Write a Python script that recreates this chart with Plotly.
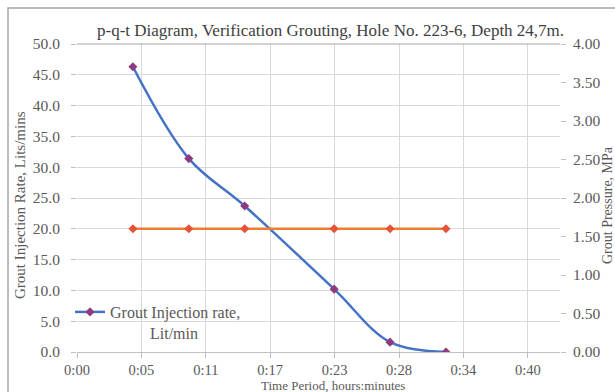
import plotly.graph_objects as go

# Data
time_min = [5, 10, 15, 23, 28, 33]
injection_rate = [46.3, 31.4, 23.7, 10.2, 1.6, 0.0]
pressure = [1.6, 1.6, 1.6, 1.6, 1.6, 1.6]
x_tick_vals = [0, 5.76, 11.52, 17.28, 23.04, 28.8, 34.56, 40.32]
x_tick_text = ["0:00", "0:05", "0:11", "0:17", "0:23", "0:28", "0:34", "0:40"]

FONT = "Liberation Serif"
GRAY = "#595959"

fig = go.Figure()
fig.add_trace(go.Scatter(
    x=time_min, y=injection_rate, mode="lines+markers",
    name="Grout Injection rate,<br>" + "&nbsp;" * 10 + "Lit/min",
    line=dict(color="#4472C4", width=2.5, shape="spline", smoothing=1),
    marker=dict(symbol="diamond", size=7, color="#8E3A80"),
))
fig.add_trace(go.Scatter(
    x=time_min, y=pressure, mode="lines+markers", yaxis="y2",
    name="Grout Pressure, MPa", showlegend=False,
    line=dict(color="#ED7D31", width=2.5),
    marker=dict(symbol="diamond", size=7, color="#E5533A"),
))

L, R, T, B = 77, 55, 44, 40
W, H = 615, 392
pw, ph = W - L - R, H - T - B

def px2paper_x(px):
    return (px - L) / pw

def px2paper_y(py):
    return 1 - (py - T) / ph

TICKFONT = dict(family=FONT, size=15.5, color=GRAY)
XTICKFONT = dict(family=FONT, size=14.5, color=GRAY)

fig.update_layout(
    width=W, height=H,
    margin=dict(l=L, r=R, t=T, b=B),
    paper_bgcolor="white", plot_bgcolor="white",
    font=dict(family=FONT, size=14, color=GRAY),
    xaxis=dict(
        range=[0, 43.2], tickvals=x_tick_vals, ticktext=x_tick_text,
        showgrid=True, gridcolor="#d9d9d9", gridwidth=1,
        showline=True, linecolor="#bfbfbf", ticks="outside", ticklen=5,
        tickcolor="#bfbfbf", zeroline=False, ticklabelstandoff=0,
        tickfont=XTICKFONT,
    ),
    yaxis=dict(
        range=[0, 50], dtick=5, tickformat=".1f",
        showgrid=True, gridcolor="#d9d9d9", gridwidth=1,
        showline=False, ticks="outside", ticklen=5, tickcolor="#bfbfbf",
        zeroline=False, ticklabelstandoff=8, tickfont=TICKFONT,
    ),
    yaxis2=dict(
        range=[0, 4], dtick=0.5, tickformat=".2f", overlaying="y", side="right",
        showgrid=False, showline=False, ticks="outside", ticklen=5,
        tickcolor="#bfbfbf", zeroline=False, ticklabelstandoff=4,
        tickfont=TICKFONT,
    ),
    legend=dict(
        x=px2paper_x(70), y=px2paper_y(295), xanchor="left", yanchor="top",
        valign="top", tracegroupgap=0,
        bgcolor="rgba(0,0,0,0)", font=dict(family=FONT, size=16, color=GRAY),
    ),
    showlegend=True,
    shapes=[
        dict(type="rect", xref="paper", yref="paper",
             x0=px2paper_x(8), x1=px2paper_x(640),
             y0=px2paper_y(420), y1=px2paper_y(8),
             line=dict(color="#a6a6a6", width=1.5), fillcolor="rgba(0,0,0,0)",
             layer="below"),
        dict(type="line", xref="paper", yref="paper",
             x0=0, x1=1, y0=1, y1=1, line=dict(color="#a6a6a6", width=1)),
    ],
    annotations=[
        dict(text="p-q-t Diagram, Verification Grouting, Hole No. 223-6, Depth 24,7m.",
             xref="paper", yref="paper", x=px2paper_x(330), y=px2paper_y(30),
             xanchor="center", yanchor="middle", showarrow=False,
             font=dict(family=FONT, size=17, color="#404040")),
        dict(text="Grout Injection Rate, Lits/mins", textangle=-90,
             xref="paper", yref="paper", x=px2paper_x(20), y=px2paper_y(205),
             xanchor="center", yanchor="middle", showarrow=False,
             font=dict(family=FONT, size=15, color=GRAY)),
        dict(text="Grout Pressure, MPa", textangle=-90,
             xref="paper", yref="paper", x=px2paper_x(607), y=px2paper_y(205),
             xanchor="center", yanchor="middle", showarrow=False,
             font=dict(family=FONT, size=14, color=GRAY)),
        dict(text="Time Period, hours:minutes",
             xref="paper", yref="paper", x=px2paper_x(333), y=px2paper_y(385),
             xanchor="center", yanchor="middle", showarrow=False,
             font=dict(family=FONT, size=13, color=GRAY)),
    ],
)

fig.write_html("out.html")
